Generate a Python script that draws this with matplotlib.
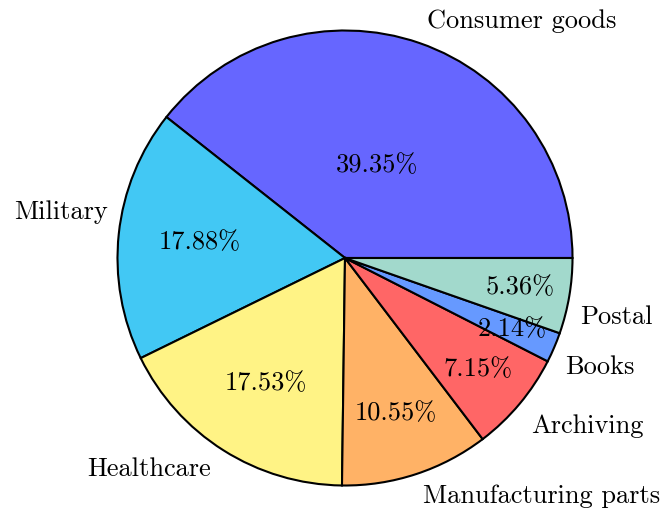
import matplotlib
matplotlib.use("Agg")
import matplotlib.pyplot as plt
import numpy as np

categories = ["Consumer goods", "Military", "Healthcare", "Manufacturing parts",
              "Archiving", "Books", "Postal"]
values = [39.35, 17.88, 17.53, 10.55, 7.15, 2.14, 5.36]
colors = ["#6666FF", "#42C8F4", "#FFF385", "#FFB266", "#FF6666", "#6699FF", "#A2D9CC"]

# label / percentage placement (style)
pct_dist = [0.43, 0.64, 0.65, 0.72, 0.76, 0.80, 0.78]
label_dist = [1.1, 1.063, 1.1, 1.1, 1.102, 1.082, 1.064]
label_shift_deg = [0, -4.8, 0, 0, -2.2, -3.2, -4.5]

plt.rcParams['font.family'] = 'serif'
plt.rcParams['font.serif'] = ['cmr10']
plt.rcParams['mathtext.fontset'] = 'cm'
plt.rcParams['axes.unicode_minus'] = False

total = sum(values)
fig = plt.figure(figsize=(6.66, 5.11), dpi=100)
ax = fig.add_axes([117.5/666, 25/511, 455/666, 456/511])
wedges, texts, autotexts = ax.pie(values, labels=categories, colors=colors,
                                  startangle=0, counterclock=True,
                                  autopct=lambda p: f"{p * total / 100:.2f}%",
                                  wedgeprops=dict(edgecolor="black", linewidth=1.5),
                                  textprops=dict(fontsize=19), labeldistance=1.1)
for w, t, lt, d, ld, sh in zip(wedges, autotexts, texts, pct_dist, label_dist, label_shift_deg):
    mid = np.deg2rad((w.theta1 + w.theta2) / 2)
    t.set_position((d * np.cos(mid), d * np.sin(mid)))
    la = mid + np.deg2rad(sh)
    lt.set_position((ld * np.cos(la), ld * np.sin(la)))
ax.set_xlim(-1, 1)
ax.set_ylim(-1, 1)
ax.axis('off')
fig.savefig("out.png", dpi=100)
